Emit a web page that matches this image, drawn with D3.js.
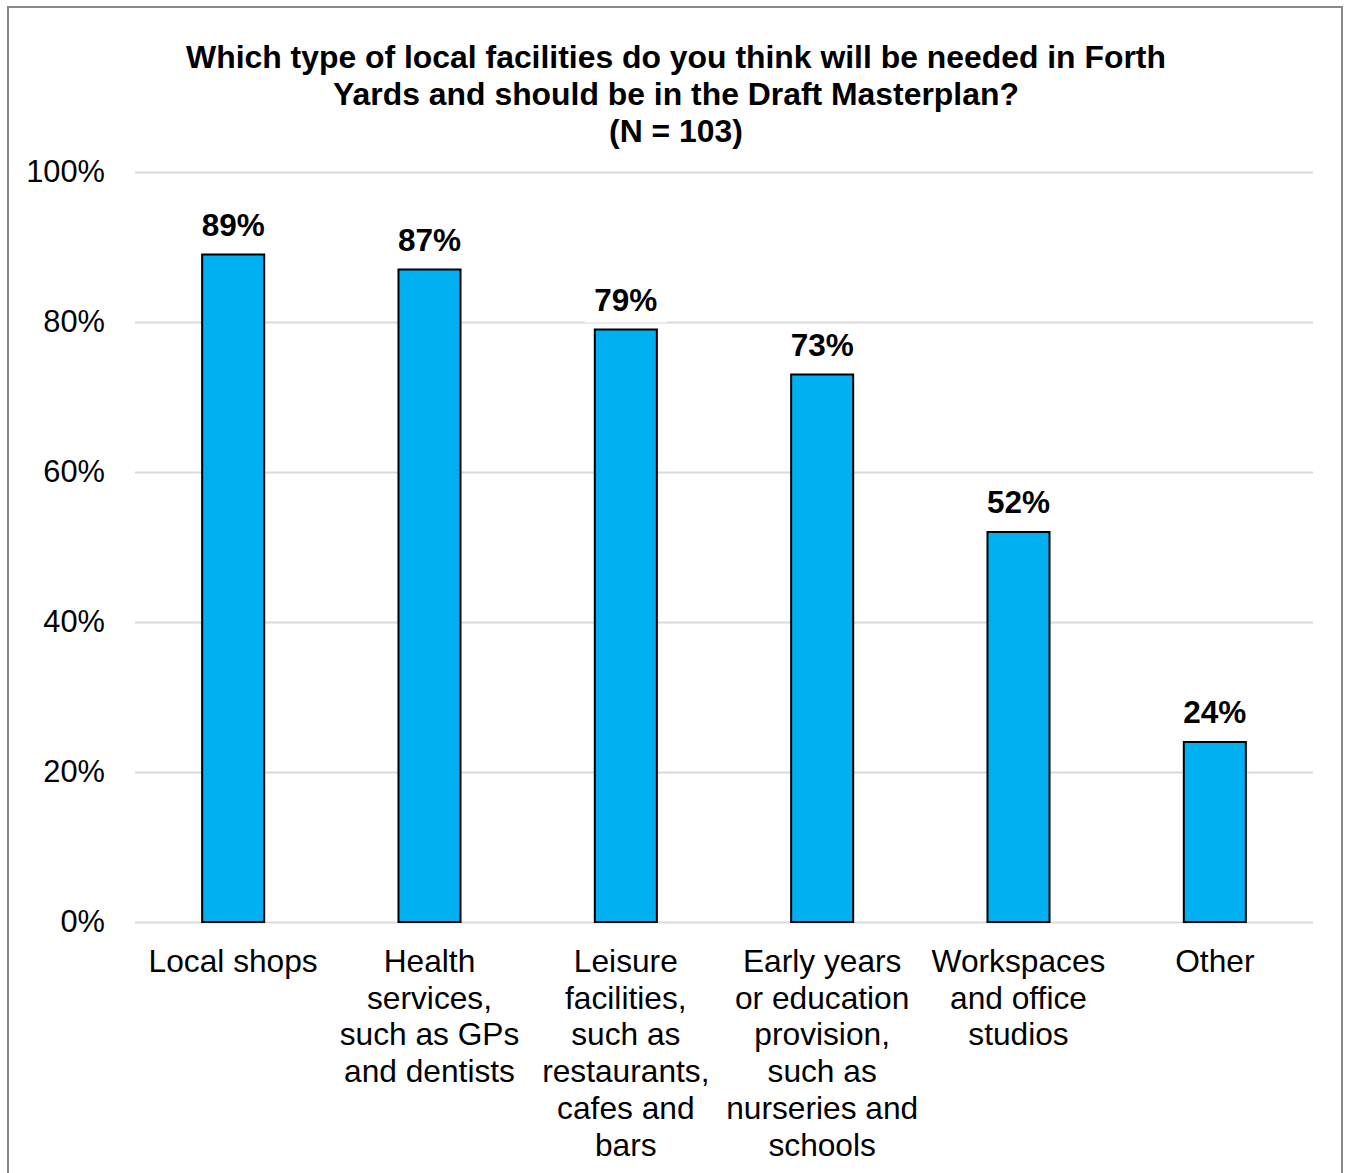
<!DOCTYPE html>
<html>
<head>
<meta charset="utf-8">
<script src="https://cdn.jsdelivr.net/npm/d3@7"></script>
<style>
  html, body { margin: 0; padding: 0; background: #fff; }
  svg { display: block; font-family: "Liberation Sans", Arial, sans-serif; }
</style>
</head>
<body>
<svg id="chart" width="1347" height="1173"></svg>
<script>
// Survey answers: share of respondents choosing each facility type
const categories = [
  ["Local shops"],
  ["Health", "services,", "such as GPs", "and dentists"],
  ["Leisure", "facilities,", "such as", "restaurants,", "cafes and", "bars"],
  ["Early years", "or education", "provision,", "such as", "nurseries and", "schools"],
  ["Workspaces", "and office", "studios"],
  ["Other"]
];
const values = [0.89, 0.87, 0.79, 0.73, 0.52, 0.24];
const valueLabels = ["89%", "87%", "79%", "73%", "52%", "24%"];
const yTicks = [0, 0.2, 0.4, 0.6, 0.8, 1.0];
const titleLines = [
  "Which type of local facilities do you think will be needed in Forth",
  "Yards and should be in the Draft Masterplan?",
  "(N = 103)"
];

const svg = d3.select("#chart");

// outer frame
svg.append("rect")
  .attr("x", 8).attr("y", 7)
  .attr("width", 1334).attr("height", 1180)
  .attr("fill", "#fff")
  .attr("stroke", "#888").attr("stroke-width", 2);

const x = d3.scaleBand()
  .domain(d3.range(categories.length))
  .range([135, 1313])
  .paddingInner(0.684)
  .paddingOuter(0.342);

const y = d3.scaleLinear().domain([0, 1]).range([922, 172]);

// title
svg.append("g").selectAll("text")
  .data(titleLines)
  .join("text")
  .attr("x", 676)
  .attr("y", (d, i) => 68 + i * 37)
  .attr("text-anchor", "middle")
  .attr("font-weight", "bold")
  .attr("font-size", "31.9px")
  .attr("fill", "#000")
  .text(d => d);

// gridlines + y tick labels via axis
const yAxis = d3.axisLeft(y)
  .tickValues(yTicks)
  .tickSize(-(1313 - 135))
  .tickPadding(30)
  .tickFormat(d3.format(".0%"));

const gy = svg.append("g")
  .attr("transform", "translate(135,0)")
  .call(yAxis);
gy.select(".domain").remove();
gy.selectAll(".tick line").attr("stroke", "#d9d9d9").attr("stroke-width", 2);
gy.selectAll(".tick text")
  .attr("font-size", "30.8px")
  .attr("font-family", "Liberation Sans, Arial, sans-serif")
  .attr("fill", "#000");

// bars
svg.append("g").selectAll("rect")
  .data(values)
  .join("rect")
  .attr("x", (d, i) => x(i))
  .attr("y", d => y(d))
  .attr("width", x.bandwidth())
  .attr("height", d => y(0) - y(d))
  .attr("fill", "#00b0f0")
  .attr("stroke", "#000")
  .attr("stroke-width", 2);

// value labels with white backing
const lbl = svg.append("g").selectAll("g")
  .data(values)
  .join("g")
  .attr("transform", (d, i) => `translate(${x(i) + x.bandwidth() / 2},${y(d) - 19})`);
lbl.append("rect")
  .attr("x", -41).attr("y", -30)
  .attr("width", 82).attr("height", 42)
  .attr("fill", "#fff");
lbl.append("text")
  .attr("text-anchor", "middle")
  .attr("font-weight", "bold")
  .attr("font-size", "31.5px")
  .attr("fill", "#000")
  .text((d, i) => valueLabels[i]);

// category labels (multi-line)
const cat = svg.append("g").selectAll("text")
  .data(categories)
  .join("text")
  .attr("text-anchor", "middle")
  .attr("font-size", "31.7px")
  .attr("fill", "#000");
cat.each(function (lines, i) {
  d3.select(this).selectAll("tspan")
    .data(lines)
    .join("tspan")
    .attr("x", x(i) + x.bandwidth() / 2)
    .attr("y", (d, j) => 972 + j * 36.7)
    .text(d => d);
});
</script>
</body>
</html>
